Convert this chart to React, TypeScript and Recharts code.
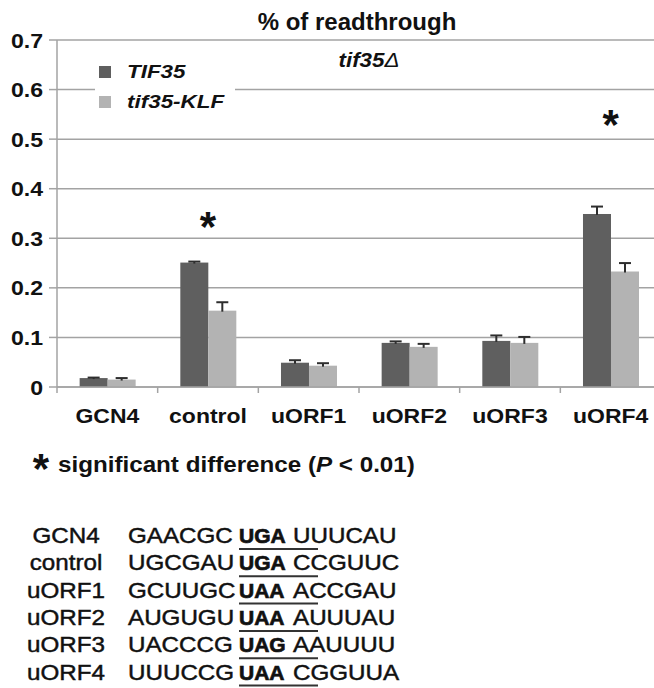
import React from 'react';
import { BarChart, Bar, XAxis, YAxis, CartesianGrid, ReferenceDot } from 'recharts';

const FONT = '"Liberation Sans", Arial, Helvetica, sans-serif';

// ---- data ----
const categories = ['GCN4', 'control', 'uORF1', 'uORF2', 'uORF3', 'uORF4'];
const seriesNames = ['TIF35', 'tif35-KLF'];
const tif35 = [0.018, 0.251, 0.049, 0.089, 0.093, 0.349];
const tif35Err = [0.001, 0.002, 0.005, 0.003, 0.011, 0.015];
const klf = [0.015, 0.154, 0.043, 0.081, 0.089, 0.233];
const klfErr = [0.003, 0.017, 0.005, 0.006, 0.012, 0.017];
const yTicks = [0, 0.1, 0.2, 0.3, 0.4, 0.5, 0.6, 0.7];
const sigCategories = ['control', 'uORF4'];
const sigLevels = [0.337, 0.543];
const upstream = ['GAACGC', 'UGCGAU', 'GCUUGC', 'AUGUGU', 'UACCCG', 'UUUCCG'];
const stopCodons = ['UGA', 'UGA', 'UAA', 'UAA', 'UAG', 'UAA'];
const downstream = ['UUUCAU', 'CCGUUC', 'ACCGAU', 'AUUUAU', 'AAUUUU', 'CGGUUA'];

const data = categories.map((name, i) => ({
  name,
  tif35: tif35[i],
  tif35Err: tif35Err[i],
  klf: klf[i],
  klfErr: klfErr[i],
}));

// ---- layout / style ----
const CHART_W = 661;
const CHART_H = 427;
const MARGIN = { top: 40, right: 0, bottom: 0, left: 0 };
const Y_AXIS_W = 57;
const bandWidth = (CHART_W - Y_AXIS_W - MARGIN.right) / categories.length;
const GRID = '#a3a3a3';
const DARK = '#5f5f5f';
const LIGHT = '#b3b3b3';
const ERR = '#2e2e2e';
const TEXT = '#111';
const colors = [DARK, LIGHT];

function makeBarShape(valueKey: string, errKey: string) {
  return (props: any) => {
    const { x, y, width, height, fill, payload } = props;
    const v = payload[valueKey];
    const e = payload[errKey];
    const k = v > 0 ? height / v : 0;
    const top = y - e * k;
    const cx = x + width / 2;
    return (
      <g>
        <rect x={x} y={y} width={width} height={height} fill={fill} />
        <line x1={cx} x2={cx} y1={y + 1} y2={top} stroke={ERR} strokeWidth={2} />
        <line x1={cx - 6} x2={cx + 6} y1={top} y2={top} stroke={ERR} strokeWidth={2} />
      </g>
    );
  };
}

const XTick = (props: any) => {
  const { x, y, payload } = props;
  const axisY = y - 8;
  const edge = x - bandWidth / 2;
  return (
    <g>
      <line x1={edge} x2={edge} y1={axisY} y2={axisY + 6} stroke={GRID} strokeWidth={1.5} />
      <text
        transform={`translate(${x},${axisY + 36}) scale(1.15,1)`}
        textAnchor="middle"
        fontFamily={FONT}
        fontWeight="bold"
        fontSize={20}
        fill={TEXT}
      >
        {payload.value}
      </text>
    </g>
  );
};

const YTick = (props: any) => {
  const { x, y, payload } = props;
  const v = payload.value;
  return (
    <text
      transform={`translate(${x},${y}) scale(1.1,1)`}
      textAnchor="end"
      dy="0.36em"
      fontFamily={FONT}
      fontWeight="bold"
      fontSize={21}
      fill={TEXT}
    >
      {v === 0 ? '0' : v.toFixed(1)}
    </text>
  );
};

const LegendBox = () => (
  <div
    style={{
      position: 'absolute',
      left: 95,
      top: 60,
      width: 140,
      height: 56,
      background: '#fff',
      fontFamily: FONT,
    }}
  >
    {seriesNames.map((s, i) => (
      <div
        key={s}
        style={{ position: 'absolute', left: 0, top: i * 30, height: 24, display: 'flex', alignItems: 'center' }}
      >
        <span style={{ display: 'inline-block', width: 12, height: 12, background: colors[i], marginLeft: 4 }} />
        <span
          style={{
            display: 'inline-block',
            marginLeft: 16,
            fontWeight: 'bold',
            fontStyle: 'italic',
            fontSize: 19,
            lineHeight: '24px',
            color: TEXT,
            transform: 'scaleX(1.18)',
            transformOrigin: 'left center',
            whiteSpace: 'nowrap',
          }}
        >
          {s}
        </span>
      </div>
    ))}
  </div>
);

const Star = (props: any) => {
  const { cx, cy } = props;
  return (
    <text x={cx} y={cy + 21} textAnchor="middle" fontFamily={FONT} fontWeight="bold" fontSize={42} fill={TEXT}>
      *
    </text>
  );
};

const ROW0 = 543;
const ROW_STEP = 27.3;
const medium = { stroke: TEXT, strokeWidth: 0.45 };
const heavy = { stroke: TEXT, strokeWidth: 0.7 };

export default function App() {
  return (
    <div style={{ position: 'absolute', left: 0, top: 0, width: 654, height: 688, overflow: 'hidden', background: '#fff' }}>
      <div style={{ position: 'absolute', left: 0, top: 0 }}>
        <BarChart
          width={CHART_W}
          height={CHART_H}
          data={data}
          margin={MARGIN}
          barCategoryGap="22.5%"
          barGap={0}
        >
          <CartesianGrid vertical={false} stroke={GRID} strokeWidth={1.5} />
          <XAxis
            dataKey="name"
            interval={0}
            height={40}
            axisLine={{ stroke: GRID, strokeWidth: 1.5 }}
            tickLine={false}
            tickSize={6}
            tickMargin={2}
            tick={<XTick />}
          />
          <YAxis
            domain={[0, 0.7]}
            ticks={yTicks}
            width={Y_AXIS_W}
            axisLine={{ stroke: GRID, strokeWidth: 1.5 }}
            tickLine={{ stroke: GRID, strokeWidth: 1.5 }}
            tickSize={8}
            tickMargin={6}
            tick={<YTick />}
            interval={0}
          />
          <Bar dataKey="tif35" name={seriesNames[0]} fill={DARK} isAnimationActive={false} shape={makeBarShape('tif35', 'tif35Err')} />
          <Bar dataKey="klf" name={seriesNames[1]} fill={LIGHT} isAnimationActive={false} shape={makeBarShape('klf', 'klfErr')} />
          {sigCategories.map((c, i) => (
            <ReferenceDot key={c} x={c} y={sigLevels[i]} r={0} shape={<Star />} />
          ))}
        </BarChart>
      </div>
      <LegendBox />
      <svg width={654} height={688} style={{ position: 'absolute', left: 0, top: 0, pointerEvents: 'none' }}>
        <text x={357} y={30} textAnchor="middle" fontFamily={FONT} fontWeight="bold" fontSize={24} fill={TEXT}>
          % of readthrough
        </text>
        <text
          transform="translate(369,67) scale(1.12,1)"
          textAnchor="middle"
          fontFamily={FONT}
          fontStyle="italic"
          fontSize={20}
          fill={TEXT}
        >
          <tspan fontWeight="bold">tif35</tspan>
          <tspan>Δ</tspan>
        </text>
        <text x={41} y={483} textAnchor="middle" fontFamily={FONT} fontWeight="bold" fontSize={42} fill={TEXT}>
          *
        </text>
        <text transform="translate(58,472) scale(1.1,1)" fontFamily={FONT} fontWeight="bold" fontSize={22} fill={TEXT}>
          significant difference (<tspan fontStyle="italic">P</tspan> &lt; 0.01)
        </text>
        {categories.map((name, i) => {
          const by = ROW0 + i * ROW_STEP;
          return (
            <g key={name}>
              <text transform={`translate(66,${by}) scale(1.1,1)`} textAnchor="middle" fontFamily={FONT} fontSize={22} fill={TEXT} {...medium}>
                {name}
              </text>
              <text transform={`translate(128,${by}) scale(1.1,1)`} fontFamily={FONT} fontSize={22} fill={TEXT} {...medium}>
                {upstream[i]}
              </text>
              <text transform={`translate(239,${by})`} fontFamily={FONT} fontWeight="bold" fontSize={21} fill={TEXT} {...heavy}>
                {stopCodons[i]}
              </text>
              <text transform={`translate(293,${by}) scale(1.1,1)`} fontFamily={FONT} fontSize={22} fill={TEXT} {...medium}>
                {downstream[i]}
              </text>
              <line x1={239} x2={318} y1={by + 6} y2={by + 6} stroke="#333" strokeWidth={2} />
            </g>
          );
        })}
      </svg>
    </div>
  );
}
